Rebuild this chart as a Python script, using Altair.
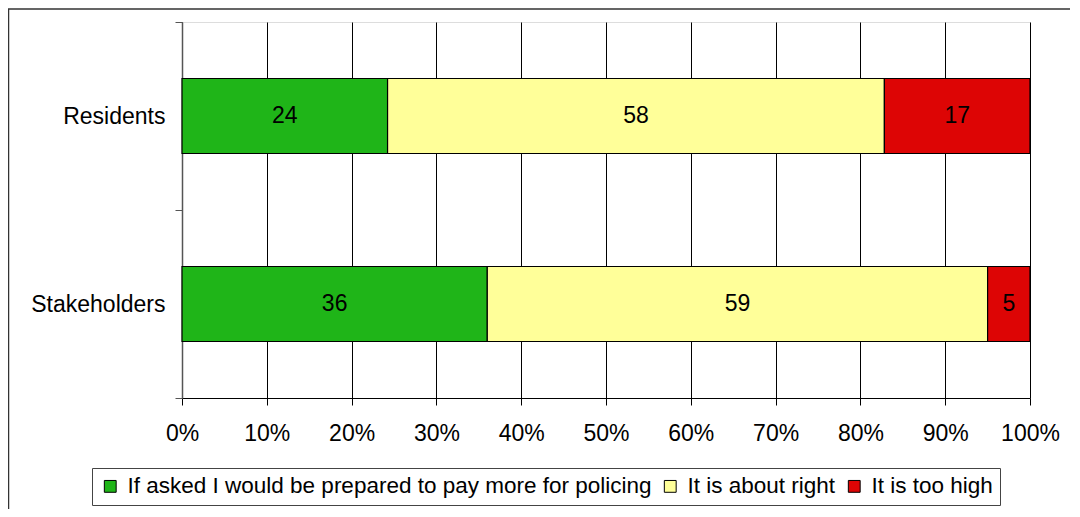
import altair as alt
import pandas as pd

groups = ["Residents", "Residents", "Residents", "Stakeholders", "Stakeholders", "Stakeholders"]
answers = [
    "If asked I would be prepared to pay more for policing", "It is about right", "It is too high",
    "If asked I would be prepared to pay more for policing", "It is about right", "It is too high",
]
values = [24, 58, 17, 36, 59, 5]
order_idx = [0, 1, 2, 0, 1, 2]

answer_order = ["If asked I would be prepared to pay more for policing", "It is about right", "It is too high"]
colors = ["#1FB518", "#FFFF99", "#DD0505"]
group_order = ["Residents", "Stakeholders"]
tick_values = [0, 0.1, 0.2, 0.3, 0.4, 0.5, 0.6, 0.7, 0.8, 0.9, 1.0]

df = pd.DataFrame({"group": groups, "answer": answers, "value": values, "ord": order_idx})

FONT = "Liberation Sans"
FS = 23

base = alt.Chart(df).transform_stack(
    stack="value", groupby=["group"], as_=["x0", "x1"], offset="normalize",
    sort=[alt.SortField("ord", order="ascending")],
).transform_calculate(mid="(datum.x0 + datum.x1) / 2")

yenc = alt.Y(
    "group:N", sort=group_order, title=None,
    scale=alt.Scale(paddingInner=0, paddingOuter=0),
    axis=alt.Axis(tickBand="extent", tickSize=7, labelPadding=10, labelFontSize=FS,
                  labelFont=FONT, labelColor="black", domainColor="#555555",
                  tickColor="#555555", grid=False, domainWidth=1.5),
)

bars = base.mark_bar(size=75, stroke="black", strokeWidth=1.2).encode(
    x=alt.X("x0:Q", scale=alt.Scale(domain=[0, 1], nice=False),
            axis=alt.Axis(values=tick_values, format=".0%", title=None, tickSize=7,
                          labelPadding=17, labelFontSize=FS, labelFont=FONT,
                          labelColor="black", grid=True, gridColor="black",
                          gridOpacity=1, gridWidth=1, domainColor="black",
                          tickColor="black", labelFlush=False, labelOverlap=False)),
    x2="x1:Q",
    y=yenc,
    color=alt.Color("answer:N", sort=answer_order,
                    scale=alt.Scale(domain=answer_order, range=colors),
                    legend=alt.Legend(title=None, orient="none", legendX=-90, legendY=446,
                                      direction="horizontal", symbolType="square",
                                      symbolSize=140, symbolStrokeColor="black",
                                      symbolStrokeWidth=1, symbolOpacity=1,
                                      labelFontSize=22.5, labelFont=FONT, labelColor="black",
                                      labelLimit=800, columnPadding=7, labelOffset=6,
                                      strokeColor="#444444", padding=7,
                                      fillColor="white")),
)

labels = base.mark_text(fontSize=FS, font=FONT, color="black", baseline="middle").encode(
    x=alt.X("mid:Q"),
    y=alt.Y("group:N", sort=group_order),
    text=alt.Text("value:Q"),
)

frame = alt.Chart(pd.DataFrame({"d": [0]})).mark_rect(
    fill=None, stroke="#333333", strokeWidth=1.5
).encode(x=alt.value(-173.5), x2=alt.value(1000), y=alt.value(-13), y2=alt.value(600))

chart = alt.layer(frame, bars, labels).properties(
    width=848, height=376,
    autosize=alt.AutoSizeParams(type="none"),
    padding={"left": 174, "top": 14, "right": 40, "bottom": 111},
).configure_view(stroke="#888888", strokeWidth=2).configure(background="white")

chart.save("out.html", embed_options={"renderer": "svg", "actions": False})
